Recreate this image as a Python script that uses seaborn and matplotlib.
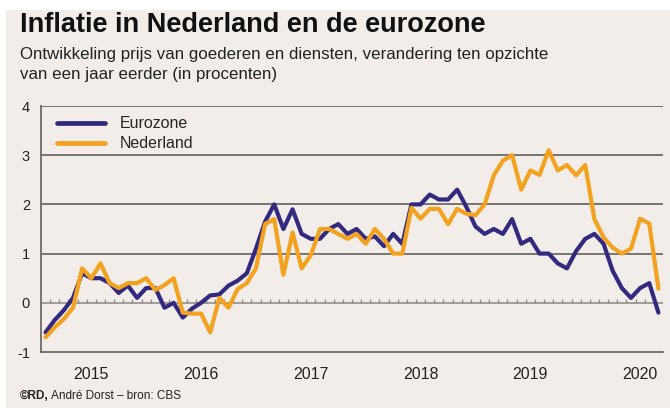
import pandas as pd
import matplotlib.pyplot as plt
import seaborn as sns
from matplotlib.patches import Rectangle

# maandcijfers jan 2015 t/m aug 2020
jaren = ["2015", "2016", "2017", "2018", "2019", "2020"]
eurozone = [
    -0.6, -0.35, -0.15, 0.1, 0.6, 0.5, 0.5, 0.4, 0.2, 0.35, 0.1, 0.3,
    0.3, -0.1, 0.0, -0.3, -0.12, 0.0, 0.15, 0.17, 0.35, 0.45, 0.6, 1.1,
    1.65, 2.0, 1.5, 1.9, 1.4, 1.3, 1.3, 1.5, 1.6, 1.4, 1.5, 1.3,
    1.35, 1.15, 1.4, 1.2, 2.0, 2.0, 2.2, 2.1, 2.1, 2.3, 1.95, 1.55,
    1.4, 1.5, 1.4, 1.7, 1.2, 1.3, 1.0, 1.0, 0.8, 0.7, 1.05, 1.3,
    1.4, 1.2, 0.65, 0.3, 0.1, 0.3, 0.4, -0.2,
]
nederland = [
    -0.7, -0.5, -0.33, -0.1, 0.7, 0.5, 0.8, 0.4, 0.3, 0.4, 0.4, 0.5,
    0.26, 0.36, 0.5, -0.2, -0.22, -0.22, -0.6, 0.1, -0.1, 0.28, 0.4, 0.7,
    1.6, 1.7, 0.57, 1.43, 0.7, 0.97, 1.5, 1.5, 1.4, 1.3, 1.4, 1.2,
    1.5, 1.3, 1.0, 1.0, 1.93, 1.71, 1.91, 1.91, 1.6, 1.91, 1.81, 1.78,
    2.0, 2.59, 2.89, 3.0, 2.3, 2.69, 2.6, 3.1, 2.69, 2.8, 2.59, 2.8,
    1.7, 1.33, 1.12, 1.0, 1.1, 1.71, 1.61, 0.29,
]

kleuren = {"Eurozone": "#33297f", "Nederland": "#f3a21f"}
beige = "#f2ede8"
font = ["Liberation Sans Narrow", "DejaVu Sans Condensed", "Liberation Sans", "DejaVu Sans"]

df = pd.DataFrame({
    "maand": list(range(len(eurozone))) * 2,
    "waarde": eurozone + nederland,
    "reeks": ["Eurozone"] * len(eurozone) + ["Nederland"] * len(nederland),
})

sns.set_theme(style="white")
plt.rcParams["font.family"] = font

fig = plt.figure(figsize=(6.7, 4.08), dpi=100, facecolor="white")
fig.patches.append(Rectangle((6 / 670, 0), 1, 1 - 10 / 408, transform=fig.transFigure,
                             facecolor=beige, edgecolor="none", zorder=-10))
ax = fig.add_axes([41 / 670, 1 - 352 / 408, (663 - 41) / 670, (352 - 106) / 408])
ax.set_facecolor(beige)

for y in [1, 2, 3, 4]:
    ax.axhline(y, color="#6e6a68", lw=1.3, zorder=1)
ax.axhline(0, color="#9a9693", lw=1.3, zorder=1)
ax.vlines([m + 0.5 for m in range(len(eurozone))], 0, 0.08, color="#8a8684", lw=0.9, zorder=1)

sns.lineplot(data=df, x="maand", y="waarde", hue="reeks", palette=kleuren,
             linewidth=3.0, ax=ax, zorder=3)

ax.set_xlim(-0.5, len(eurozone) - 0.5)
ax.set_ylim(-1, 4)
ax.set_yticks([-1, 0, 1, 2, 3, 4])
ax.set_yticklabels(["-1", "0", "1", "2", "3", "4"], fontsize=10.5, color="#222222")
ax.set_xticks([5 + 12 * k for k in range(len(jaren))])
ax.set_xticklabels(jaren, fontsize=11.5, color="#222222")
ax.tick_params(axis="both", length=0)
ax.tick_params(axis="x", pad=11)
ax.tick_params(axis="y", pad=8)
ax.set_xlabel("")
ax.set_ylabel("")
for s in ["top", "right"]:
    ax.spines[s].set_visible(False)
for s in ["left", "bottom"]:
    ax.spines[s].set_color("#6e6a68")
    ax.spines[s].set_linewidth(1.3)

leg = ax.legend(loc="upper left", frameon=False, fontsize=11.5, handlelength=3.0,
                handletextpad=0.9, labelspacing=0.3, bbox_to_anchor=(0.009, 1.0),
                borderaxespad=0.25)
for h in leg.get_lines():
    h.set_linewidth(3.4)

fig.text(20 / 670, 1 - 25 / 408, "Inflatie in Nederland en de eurozone", fontsize=19.5,
         fontweight="bold", va="center", ha="left", color="#111111")
fig.text(20 / 670, 1 - 55 / 408, "Ontwikkeling prijs van goederen en diensten, verandering ten opzichte",
         fontsize=12.2, va="center", ha="left", color="#222222")
fig.text(20 / 670, 1 - 75 / 408, "van een jaar eerder (in procenten)",
         fontsize=12.2, va="center", ha="left", color="#222222")

t1 = fig.text(20 / 670, 1 - 396 / 408, "©RD,", fontsize=8.5, fontweight="bold",
              va="center", ha="left", color="#222222")
fig.canvas.draw()
bb = t1.get_window_extent()
fig.text(bb.x1 / fig.bbox.width + 2 / 670, 1 - 396 / 408, "André Dorst – bron: CBS", fontsize=8.5,
         va="center", ha="left", color="#222222")

fig.savefig("out.png", dpi=100, facecolor="white")
